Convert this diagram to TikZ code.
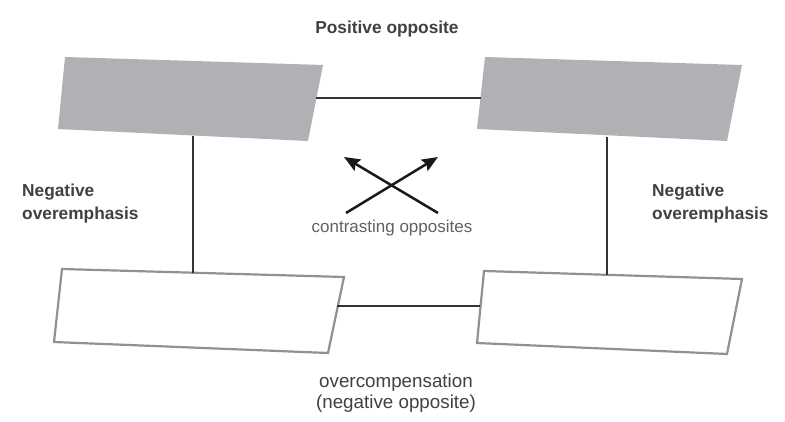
\documentclass[tikz,border=0pt]{standalone}
\usepackage{fontspec}
\setmainfont{Liberation Sans}
\usetikzlibrary{arrows.meta}

\definecolor{boxgray}{RGB}{176,177,181}
\definecolor{rimgray}{RGB}{145,145,148}
\definecolor{linkgray}{RGB}{51,51,51}
\definecolor{textgray}{RGB}{64,64,64}

\begin{document}
\begin{tikzpicture}[x=1pt,y=-1pt]
    \useasboundingbox (0,0) rectangle (785,422);

    % the four boxes
    \begin{scope}[every path/.style={line width=2.2pt,line join=miter}]
      \fill[boxgray] (65,57) -- (323,65) -- (308,141) -- (58,129) -- cycle;
      \fill[boxgray] (485,57) -- (742,65) -- (727,141) -- (477,129) -- cycle;
      \draw[rimgray,fill=white] (62,269) -- (344,277) -- (328,353) -- (54,342) -- cycle;
      \draw[rimgray,fill=white] (484,271) -- (742,279) -- (727,354) -- (477,343) -- cycle;
    \end{scope}

    % link ends
    \coordinate (tl) at (316,98);
    \coordinate (tr) at (481,98);
    \coordinate (lt) at (193,136);
    \coordinate (lb) at (193,273);
    \coordinate (rt) at (607,137);
    \coordinate (rb) at (607,275);
    \coordinate (bl) at (337,306);
    \coordinate (br) at (480,306);
    \coordinate (x1) at (346,213);
    \coordinate (x2) at (438,157);
    \coordinate (x3) at (438,213);
    \coordinate (x4) at (344,157);

    \begin{scope}[>={Stealth[length=16pt,width=13pt,inset=2.5pt]},
        every edge/.style={draw=linkgray,line width=2.5pt}]
      \path (tl) edge (tr);
      \path (lt) edge (lb);
      \path (rt) edge (rb);
      \path (bl) edge (br);
      \path (x1) edge[->,draw=black!90] (x2);
      \path (x3) edge[->,draw=black!90] (x4);
    \end{scope}

    \begin{scope}[every node/.style={text=textgray,inner sep=0pt}]
      \node[font=\fontsize{17.3}{23}\selectfont\bfseries,anchor=base] (pos) at (387,34) {Positive opposite};
      \node[font=\fontsize{17.3}{23}\selectfont\bfseries,anchor=west,align=left] (negl) at (22,204) {Negative\\overemphasis};
      \node[font=\fontsize{17.3}{23}\selectfont\bfseries,anchor=west,align=left] (negr) at (652,204) {Negative\\overemphasis};
      \node[font=\fontsize{17}{21}\selectfont,text=black!62,anchor=base] (contr) at (392,233) {contrasting opposites};
      \node[font=\fontsize{18.8}{21}\selectfont,align=center] (overc) at (396,393) {overcompensation\\(negative opposite)};
    \end{scope}
\end{tikzpicture}
\end{document}
